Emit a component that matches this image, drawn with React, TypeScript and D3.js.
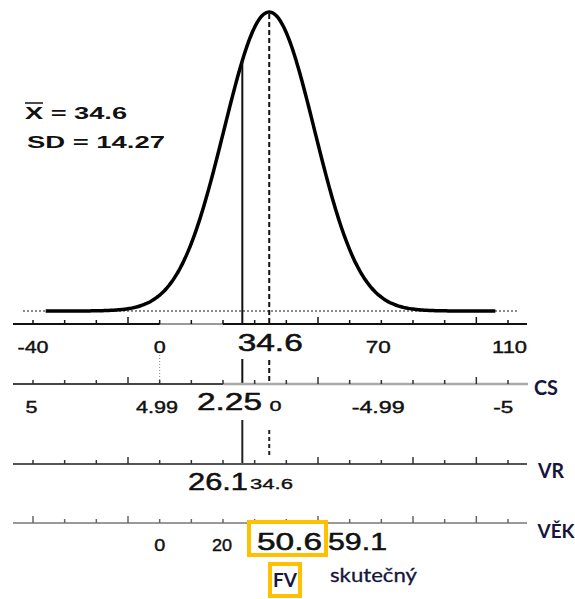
import React from "react";
import * as d3 from "d3";

// ---- data ----
const MEAN = 34.6;
const SD = 14.27;
const VR_VALUE = 26.1;
const CURVE_RANGE = [-36, 106];
const topTicks = d3.range(-40, 111, 10);
const topLabels = [
  { v: -40, t: "-40", w: 31 },
  { v: 0, t: "0", w: 12 },
  { v: 69, t: "70", w: 25 },
  { v: 110.5, t: "110", w: 35 },
];
const csLabels = [
  { v: -40.5, t: "5", w: 12 },
  { v: -0.8, t: "4.99", w: 42 },
  { v: 36.6, t: "0", w: 12, small: true },
  { v: 69, t: "-4.99", w: 53 },
  { v: 108.5, t: "-5", w: 20 },
];
const vekLabels = [
  { v: 0, t: "0", w: 11 },
  { v: 19.7, t: "20", w: 20 },
];

export default function App() {
  const W = 575, H = 599;
  const x = d3.scaleLinear().domain([-40, 110]).range([33, 508]);
  const yCurve = d3.scaleLinear().domain([0, 1]).range([311, 12]);
  const pts = d3.range(CURVE_RANGE[0], CURVE_RANGE[1] + 0.01, 0.5).map((v) => [
    v,
    Math.exp(-0.5 * ((v - MEAN) / SD) ** 2),
  ]);
  const line = d3
    .line<number[]>()
    .x((d) => x(d[0]))
    .y((d) => yCurve(d[1]))
    .curve(d3.curveBasis);

  const yTop = 324, yCS = 384, yVR = 464, yVEK = 523;
  const xMean = x(MEAN), xVR = x(VR_VALUE);
  const topAtVR = yCurve(Math.exp(-0.5 * ((VR_VALUE - MEAN) / SD) ** 2));
  const num = "'Liberation Sans', Arial, sans-serif";
  const lab = "Lato, 'Open Sans', sans-serif";
  const navy = "#15153d";

  const ticks = (y: number, color: string, tall: number[] = []) =>
    topTicks.map((t) => (
      <line
        key={t}
        x1={x(t)}
        x2={x(t)}
        y1={y}
        y2={y - (tall.includes(t) ? 7 : 4)}
        stroke={color}
        strokeWidth={1.5}
      />
    ));

  const T = (p: {
    x: number; y: number; t: string; w: number; size: number;
    weight?: string | number; fam?: string; fill?: string; anchor?: string; heavy?: number;
  }) => (
    <text
      x={p.x}
      y={p.y}
      fontFamily={p.fam || num}
      fontSize={p.size}
      fontWeight={p.weight || "normal"}
      fill={p.fill || "#111"}
      stroke={p.heavy ? p.fill || "#111" : "none"}
      strokeWidth={p.heavy || 0}
      textAnchor={(p.anchor as any) || "middle"}
      textLength={p.w}
      lengthAdjust="spacingAndGlyphs"
    >
      {p.t}
    </text>
  );

  return (
    <svg width={W} height={H} style={{ position: "absolute", left: 0, top: 0, background: "#fff" }}>
      <rect width={W} height={H} fill="#fff" />
      {/* dotted baseline */}
      <line x1={23} x2={517} y1={311} y2={311} stroke="#666" strokeWidth={1.5} strokeDasharray="2,2" />
      {/* curve */}
      <path d={line(pts) || ""} fill="none" stroke="#000" strokeWidth={3.5} />

      {/* vertical markers */}
      <line x1={xVR} x2={xVR} y1={topAtVR} y2={yTop} stroke="#111" strokeWidth={2} />
      <line x1={xMean} x2={xMean} y1={yCurve(1) + 2} y2={yTop} stroke="#111" strokeWidth={2} strokeDasharray="5,3" />
      <line x1={xVR} x2={xVR} y1={359} y2={yCS} stroke="#111" strokeWidth={2} />
      <line x1={xMean} x2={xMean} y1={360} y2={yCS} stroke="#111" strokeWidth={2} strokeDasharray="5,3" />
      <line x1={xVR} x2={xVR} y1={420} y2={yVR} stroke="#222" strokeWidth={2} />
      <line x1={xMean} x2={xMean} y1={430} y2={yVR - 6} stroke="#222" strokeWidth={2} strokeDasharray="4,3" />
      <line x1={x(0)} x2={x(0)} y1={355} y2={yCS} stroke="#888" strokeWidth={1} strokeDasharray="1,2" />

      {/* top axis */}
      <line x1={13} x2={527} y1={yTop} y2={yTop} stroke="#111" strokeWidth={2} />
      <line x1={x(0)} x2={x(20)} y1={yTop} y2={yTop} stroke="#999" strokeWidth={2} />
      {ticks(yTop, "#111", [-10, 50, 100])}
      {topLabels.map((l) => (
        <T key={l.t} x={x(l.v)} y={353} t={l.t} w={l.w} size={17} heavy={0.4} />
      ))}
      <T x={xMean + 1} y={351} t={String(MEAN)} w={65} size={23} heavy={0.5} />

      {/* CS axis */}
      <line x1={13} x2={x(20)} y1={yCS} y2={yCS} stroke="#444" strokeWidth={2} />
      <line x1={x(20)} x2={528} y1={yCS} y2={yCS} stroke="#aaa" strokeWidth={2.5} />
      {ticks(yCS, "#333", [-10, 50, 100])}
      {csLabels.map((l) => (
        <T key={l.t} x={x(l.v)} y={l.small ? 411 : 413} t={l.t} w={l.w} size={l.small ? 15 : 16} heavy={0.4} />
      ))}
      <T x={229.5} y={410} t="2.25" w={65} size={23} heavy={0.5} />
      <T x={546} y={395} t="CS" w={24} size={20} fam={lab} weight="bold" fill={navy} />

      {/* VR axis */}
      <line x1={13} x2={527} y1={yVR} y2={yVR} stroke="#555" strokeWidth={2} />
      {ticks(yVR, "#333", [-10, 50, 80, 100])}
      <T x={218} y={490} t={String(VR_VALUE)} w={60} size={23} heavy={0.5} />
      <T x={271.5} y={489} t={String(MEAN)} w={43} size={14} heavy={0.3} />
      <T x={551} y={478} t="VR" w={26} size={20} fam={lab} weight="bold" fill={navy} />

      {/* VĚK axis */}
      <line x1={13} x2={527} y1={yVEK} y2={yVEK} stroke="#999" strokeWidth={2} />
      {ticks(yVEK, "#666", [-40, -10, 50, 80, 100])}
      {vekLabels.map((l) => (
        <T key={l.t} x={x(l.v)} y={551} t={l.t} w={l.w} size={16} heavy={0.4} />
      ))}
      <T x={289.5} y={550} t="50.6" w={65} size={23} heavy={0.5} />
      <T x={357.5} y={550} t="59.1" w={59} size={23} heavy={0.5} />
      <T x={556} y={538} t="VĚK" w={37} size={18} fam={lab} weight="bold" fill={navy} />

      {/* highlight boxes */}
      <rect x={249} y={522} width={77} height={33} fill="none" stroke="#FFC000" strokeWidth={4} />
      <rect x={270} y={564} width={30} height={32} fill="none" stroke="#FFC000" strokeWidth={4} />
      <T x={285} y={587} t="FV" w={24} size={18} fam={lab} weight="bold" fill={navy} />
      <T x={330} y={582} t="skutečný" w={87} size={20} fam={lab} fill={navy} anchor="start" heavy={0.3} />

      {/* stats */}
      <T x={25} y={119} t="X = 34.6" w={102} size={16} weight="bold" anchor="start" />
      <line x1={25} x2={43} y1={103} y2={103} stroke="#111" strokeWidth={1.5} />
      <T x={27} y={148} t={`SD = ${SD}`} w={138} size={16} weight="bold" anchor="start" />
    </svg>
  );
}
